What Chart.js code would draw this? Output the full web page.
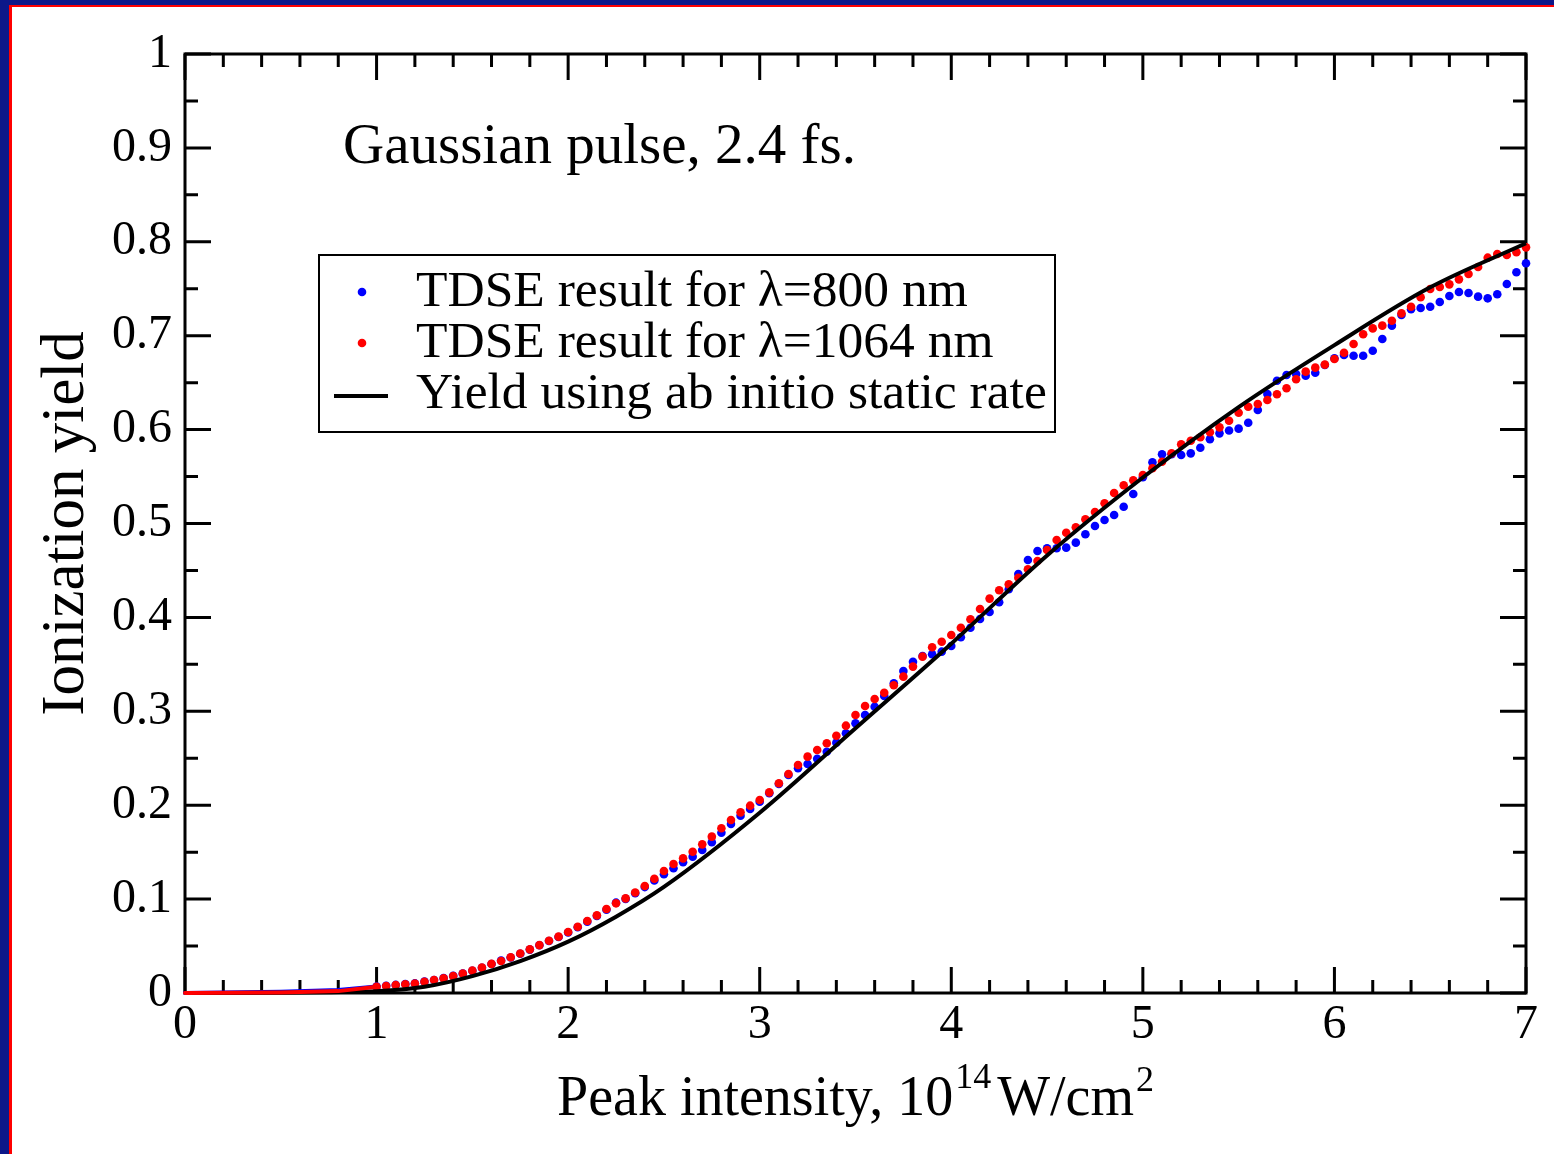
<!DOCTYPE html>
<html>
<head>
<meta charset="utf-8">
<title>Ionization yield</title>
<script src="https://cdn.jsdelivr.net/npm/chart.js@4.4.1/dist/chart.umd.min.js"></script>
<style>
  html, body { margin: 0; padding: 0; background: #fff; }
  #wrap { position: relative; width: 1554px; height: 1154px; overflow: hidden; }
  #chart { position: absolute; left: 0; top: 0; }
  /* slide frame: navy band with a thin red line inside */
  .band-blue { position: absolute; left: 0; top: 0; width: 1554px; height: 1154px; box-sizing: border-box;
               border-left: 9px solid #0d1889; border-top: 5px solid #0d1889; pointer-events: none; }
  .band-red { position: absolute; left: 9px; top: 5px; right: 0; bottom: 0;
              border-left: 3px solid #ff0000; border-top: 2px solid #ff0000; pointer-events: none; }
</style>
</head>
<body>
<div id="wrap">
  <canvas id="chart" width="1554" height="1154"></canvas>
  <div class="band-blue"></div>
  <div class="band-red"></div>
</div>
<script>
// ---- data ----
var xTickLabels = ['0', '1', '2', '3', '4', '5', '6', '7'];
var yTickLabels = ['0', '0.1', '0.2', '0.3', '0.4', '0.5', '0.6', '0.7', '0.8', '0.9', '1'];

// TDSE dots: one sample every 0.05 from 1.0 to 7.0
var dotStart = 1.0;
var dotStep = 0.05;

var yield800 = [
  0.0068, 0.0076, 0.0086, 0.0095, 0.0102, 0.0121, 0.0139, 0.0158, 0.0182, 0.0206,
  0.0236, 0.0268, 0.0309, 0.0345, 0.0378, 0.0418, 0.0462, 0.0508, 0.0553, 0.0597,
  0.0645, 0.0700, 0.0760, 0.0820, 0.0886, 0.0962, 0.1002, 0.1062, 0.1128, 0.1198,
  0.1264, 0.1328, 0.1392, 0.1452, 0.1523, 0.1605, 0.1707, 0.1800, 0.1888, 0.1960,
  0.2037, 0.2127, 0.2226, 0.2322, 0.2393, 0.2439, 0.2495, 0.2570, 0.2666, 0.2766,
  0.2872, 0.2960, 0.3049, 0.3163, 0.3298, 0.3429, 0.3528, 0.3589, 0.3607, 0.3635,
  0.3695, 0.3788, 0.3890, 0.3983, 0.4058, 0.4161, 0.4299, 0.4462, 0.4611, 0.4707,
  0.4736, 0.4736, 0.4743, 0.4796, 0.4885, 0.4973, 0.5037, 0.5090, 0.5179, 0.5314,
  0.5492, 0.5652, 0.5737, 0.5737, 0.5730, 0.5747, 0.5807, 0.5897, 0.5960, 0.5990,
  0.6010, 0.6073, 0.6209, 0.6379, 0.6521, 0.6581, 0.6592, 0.6574, 0.6606, 0.6688,
  0.6759, 0.6794, 0.6787, 0.6787, 0.6840, 0.6965, 0.7107, 0.7220, 0.7281, 0.7295,
  0.7309, 0.7359, 0.7423, 0.7465, 0.7455, 0.7416, 0.7398, 0.7441, 0.7551, 0.7675,
  0.7771
];

var yield1064 = [
  0.0067, 0.0075, 0.0085, 0.0093, 0.0100, 0.0120, 0.0138, 0.0156, 0.0180, 0.0208,
  0.0238, 0.0270, 0.0310, 0.0340, 0.0380, 0.0420, 0.0465, 0.0510, 0.0557, 0.0600,
  0.0650, 0.0706, 0.0767, 0.0827, 0.0895, 0.0955, 0.1008, 0.1070, 0.1140, 0.1217,
  0.1300, 0.1374, 0.1434, 0.1505, 0.1583, 0.1665, 0.1754, 0.1842, 0.1924, 0.1995,
  0.2055, 0.2137, 0.2233, 0.2332, 0.2428, 0.2517, 0.2588, 0.2659, 0.2740, 0.2847,
  0.2960, 0.3056, 0.3131, 0.3198, 0.3277, 0.3369, 0.3476, 0.3582, 0.3682, 0.3741,
  0.3813, 0.3890, 0.3980, 0.4090, 0.4200, 0.4289, 0.4352, 0.4423, 0.4512, 0.4600,
  0.4718, 0.4824, 0.4902, 0.4959, 0.5045, 0.5122, 0.5215, 0.5325, 0.5407, 0.5460,
  0.5516, 0.5588, 0.5658, 0.5747, 0.5843, 0.5882, 0.5918, 0.5971, 0.6024, 0.6095,
  0.6180, 0.6244, 0.6273, 0.6315, 0.6376, 0.6440, 0.6536, 0.6617, 0.6660, 0.6692,
  0.6752, 0.6819, 0.6912, 0.7015, 0.7078, 0.7107, 0.7160, 0.7238, 0.7309, 0.7409,
  0.7497, 0.7519, 0.7547, 0.7600, 0.7657, 0.7732, 0.7831, 0.7870, 0.7860, 0.7888,
  0.7941
];

// below 1e14 the TDSE points are so dense they merge into a line
var lowX = [0, 0.5, 0.8, 1.0];
var low800 = [0, 0.0014, 0.0032, 0.0068];
var low1064 = [0, 0.0006, 0.0020, 0.0067];

// static-rate yield curve (black)
var staticX = [0, 0.5, 0.75, 1.0, 1.25, 1.5, 1.75, 2.0, 2.25, 2.5, 3.0, 3.5, 4.0, 4.5, 5.0, 5.5, 6.0, 6.5, 7.0];
var staticYield = [0, 0.0002, 0.0008, 0.002, 0.0067, 0.018, 0.034, 0.0547, 0.0813, 0.113, 0.192, 0.282, 0.372, 0.466, 0.549, 0.624, 0.690, 0.7515, 0.7984];

var yTitle = 'Ionization yield';
var note = 'Gaussian pulse, 2.4 fs.';

var serif = "'Liberation Serif', 'Times New Roman', Times, serif";
var blue = '#0000ff', red = '#ff0000';

function dots(values) {
  return values.map(function (v, i) {
    return { x: Math.round((dotStart + i * dotStep) * 100) / 100, y: v };
  });
}
function pairs(xs, ys) {
  return xs.map(function (x, i) { return { x: x, y: ys[i] }; });
}

// frame + inward ticks on all four sides
var frameTicks = {
  id: 'frameTicks',
  beforeDatasetsDraw: function (chart) {
    var ctx = chart.ctx, a = chart.chartArea;
    var xs = chart.scales.x, ys = chart.scales.y;
    ctx.save();
    ctx.strokeStyle = '#000';
    ctx.lineWidth = 3;
    ctx.strokeRect(a.left, a.top, a.right - a.left, a.bottom - a.top);
    ctx.beginPath();
    for (var i = 0; i <= 35; i++) {
      var px = xs.getPixelForValue(i * 0.2);
      var len = (i % 5 === 0) ? 26 : 13;
      ctx.moveTo(px, a.bottom); ctx.lineTo(px, a.bottom - len);
      ctx.moveTo(px, a.top); ctx.lineTo(px, a.top + len);
    }
    for (var j = 0; j <= 20; j++) {
      var py = ys.getPixelForValue(j * 0.05);
      var len2 = (j % 2 === 0) ? 26 : 13;
      ctx.moveTo(a.left, py); ctx.lineTo(a.left + len2, py);
      ctx.moveTo(a.right, py); ctx.lineTo(a.right - len2, py);
    }
    ctx.stroke();
    ctx.restore();
  }
};

// axis titles, note and the boxed legend
var textLayer = {
  id: 'textLayer',
  afterDraw: function (chart) {
    var ctx = chart.ctx, a = chart.chartArea;
    var xs = chart.scales.x, ys = chart.scales.y;
    ctx.save();
    ctx.fillStyle = '#000';

    // y title, rotated
    ctx.font = '61px ' + serif;
    ctx.textAlign = 'center';
    ctx.textBaseline = 'alphabetic';
    ctx.translate(83, (a.top + a.bottom) / 2);
    ctx.rotate(-Math.PI / 2);
    ctx.fillText(yTitle, 0, 0);
    ctx.setTransform(1, 0, 0, 1, 0, 0);

    // x title with superscripts
    var parts = [
      { t: 'Peak intensity, 10', size: 56, dy: 0, gap: 2 },
      { t: '14', size: 36, dy: -27, gap: 6 },
      { t: 'W/cm', size: 56, dy: 0, gap: 2 },
      { t: '2', size: 36, dy: -24, gap: 0 }
    ];
    var total = 0;
    parts.forEach(function (p) {
      ctx.font = p.size + 'px ' + serif;
      p.w = ctx.measureText(p.t).width;
      total += p.w + p.gap;
    });
    var cx = (a.left + a.right) / 2 - total / 2;
    ctx.textAlign = 'left';
    parts.forEach(function (p) {
      ctx.font = p.size + 'px ' + serif;
      ctx.fillText(p.t, cx, 1115 + p.dy);
      cx += p.w + p.gap;
    });

    // note inside the plot
    ctx.font = '57px ' + serif;
    ctx.fillText(note, xs.getPixelForValue(0.825), ys.getPixelForValue(0.884));

    // legend box
    ctx.lineWidth = 2;
    ctx.strokeStyle = '#000';
    ctx.strokeRect(319, 255, 736, 177);
    ctx.font = '51.5px ' + serif;
    ctx.textBaseline = 'middle';
    var rows = chart.data.datasets.filter(function (d) { return d.legendRow !== undefined; })
      .sort(function (p, q) { return p.legendRow - q.legendRow; });
    rows.forEach(function (d, k) {
      var y = 292 + k * 51;
      if (d.showLine) {
        ctx.beginPath();
        ctx.lineWidth = 4;
        ctx.moveTo(334, y + 2); ctx.lineTo(388, y + 2);
        ctx.stroke();
      } else {
        ctx.beginPath();
        ctx.fillStyle = d.backgroundColor;
        ctx.arc(362, y, 4.3, 0, Math.PI * 2);
        ctx.fill();
      }
      ctx.fillStyle = '#000';
      ctx.fillText(d.label, 416, y);
    });
    ctx.restore();
  }
};

Chart.defaults.font.family = serif;
Chart.defaults.color = '#000';

new Chart(document.getElementById('chart'), {
  type: 'scatter',
  data: {
    datasets: [
      { data: pairs(lowX, low1064), showLine: true, borderColor: red, borderWidth: 4,
        borderCapStyle: 'round', pointRadius: 0, clip: false, order: 0 },
      { label: 'Yield using ab initio static rate', legendRow: 2, data: pairs(staticX, staticYield),
        showLine: true, borderColor: '#000', borderWidth: 4, pointRadius: 0,
        cubicInterpolationMode: 'monotone', clip: false, order: 1 },
      { label: 'TDSE result for \u03bb=1064 nm', legendRow: 1, data: dots(yield1064),
        backgroundColor: red, pointRadius: 4.3, pointHoverRadius: 4.3, borderWidth: 0, clip: false, order: 2 },
      { label: 'TDSE result for \u03bb=800 nm', legendRow: 0, data: dots(yield800),
        backgroundColor: blue, pointRadius: 4.3, pointHoverRadius: 4.3, borderWidth: 0, clip: false, order: 3 },
      { data: pairs(lowX, low800), showLine: true, borderColor: blue, borderWidth: 4,
        borderCapStyle: 'round', pointRadius: 0, clip: false, order: 4 }
    ]
  },
  options: {
    responsive: false,
    animation: false,
    devicePixelRatio: 1,
    layout: { padding: { left: 0, right: 28, top: 54, bottom: 0 } },
    plugins: { legend: { display: false }, tooltip: { enabled: false } },
    scales: {
      x: {
        type: 'linear', min: 0, max: 7,
        afterFit: function (s) { s.height = 161; },
        grid: { display: false, drawTicks: false },
        border: { display: false },
        ticks: {
          stepSize: 1, padding: 4, maxRotation: 0, autoSkip: false,
          font: { size: 48 }, color: '#000',
          callback: function (v, i) { return xTickLabels[i]; }
        }
      },
      y: {
        type: 'linear', min: 0, max: 1,
        afterFit: function (s) { s.width = 185; },
        grid: { display: false, drawTicks: false },
        border: { display: false },
        ticks: {
          stepSize: 0.1, padding: 13, autoSkip: false,
          font: { size: 48 }, color: '#000',
          callback: function (v, i) { return yTickLabels[i]; }
        }
      }
    }
  },
  plugins: [frameTicks, textLayer]
});
</script>
</body>
</html>
